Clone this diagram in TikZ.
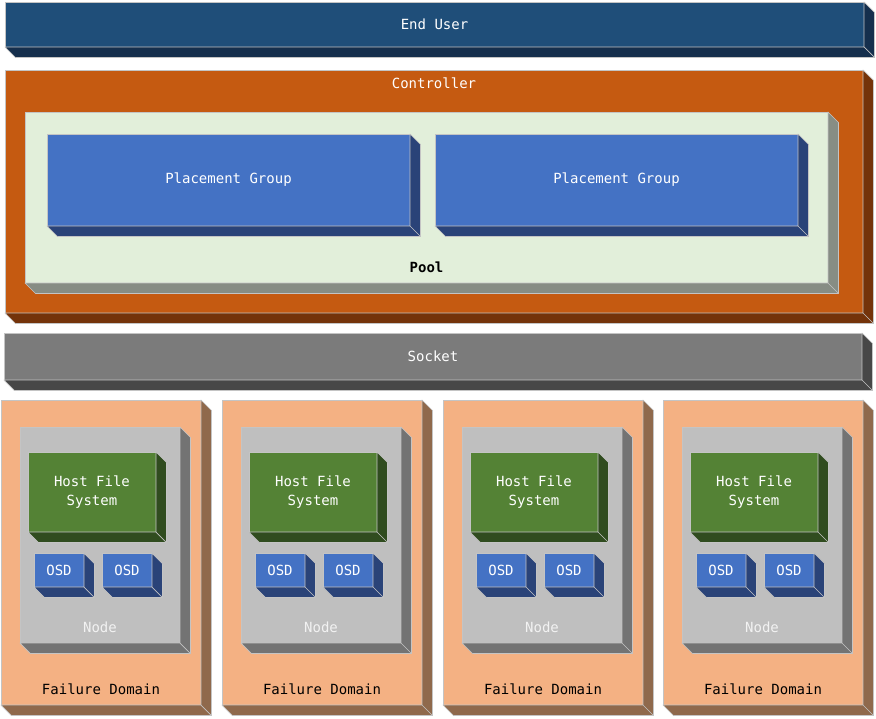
\documentclass[tikz,border=0pt]{standalone}
\usepackage{fontspec}
\usepackage{xcolor}
\setmonofont{DejaVu Sans Mono}
\usetikzlibrary{positioning, calc}

\definecolor{userFace}{HTML}{1F4E79}
\definecolor{userSide}{HTML}{152F4D}
\definecolor{ctrlFace}{HTML}{C55A11}
\definecolor{ctrlSide}{HTML}{74330A}
\definecolor{poolFace}{HTML}{E2EFDA}
\definecolor{poolSide}{HTML}{878D84}
\definecolor{pgFace}{HTML}{4472C4}
\definecolor{pgSide}{HTML}{2A4378}
\definecolor{sockFace}{HTML}{7B7B7B}
\definecolor{sockSide}{HTML}{474747}
\definecolor{fdFace}{HTML}{F4B183}
\definecolor{fdSide}{HTML}{8F694C}
\definecolor{hostFace}{HTML}{BFBFBF}
\definecolor{hostSide}{HTML}{737373}
\definecolor{hfsFace}{HTML}{548235}
\definecolor{hfsSide}{HTML}{304C1F}
\definecolor{slabEdge}{HTML}{C4C4C4}

% #1 name, #2 x1, #3 y1, #4 x2, #5 y2, #6 face, #7 side, #8 text
\newcommand{\slab}[8]{%
  \node[slabface, fill=#6, minimum width={((#4)-(#2))*1pt}, minimum height={((#5)-(#3))*1pt}]
    (#1) at ({((#2)+(#4))/2},{((#3)+(#5))/2}) {#8};
  \filldraw[fill=#7, draw=slabEdge, line width=0.7pt, line join=round]
    (#1.north east) -- ++(\dep,\dep) -- ([shift={(\dep,\dep)}]#1.south east)
    -- ([shift={(\dep,\dep)}]#1.south west) -- (#1.south west) -- (#1.south east) -- cycle;
  \draw[slabEdge, line width=0.7pt] (#1.south east) -- ++(\dep,\dep);
}
\newcommand{\dep}{10.5}

\begin{document}
\begin{tikzpicture}[
            x=1pt, y=-1pt,
            slabface/.style={rectangle, draw=slabEdge, line width=0.7pt, inner sep=0pt, outer sep=0pt, align=center, text=white, font=\ttfamily\fontsize{14}{19}\selectfont},
            lbl/.style={inner sep=0pt, font=\ttfamily\fontsize{14}{19}\selectfont}
        ]
\useasboundingbox (0,0) rectangle (876,718);

% Top layers
\slab{user}{5}{2}{864}{47}{userFace}{userSide}{End User}
\slab{ctrl}{5}{70}{863}{313}{ctrlFace}{ctrlSide}{}
\node[lbl, text=white] (ctrl-lbl) at ([yshift=-13pt]ctrl.north) {Controller};

% Pool and placement groups
\slab{pool}{25}{112}{828}{283}{poolFace}{poolSide}{}
\node[lbl, font=\ttfamily\bfseries\fontsize{14}{19}\selectfont] (pool-lbl) at ([yshift=16pt]pool.south) {Pool};
\slab{pg1}{47}{134}{410}{226}{pgFace}{pgSide}{Placement Group}
\slab{pg2}{435}{134}{798}{226}{pgFace}{pgSide}{Placement Group}

% Socket
\slab{sock}{4}{333}{862}{380}{sockFace}{sockSide}{Socket}

% Failure domains
\foreach \i/\x in {1/1, 2/222, 3/443, 4/663} {
  \slab{fd\i}{\x}{400}{\x+200}{705}{fdFace}{fdSide}{}
  \node[lbl] (fd\i-lbl) at ([yshift=16pt]fd\i.south) {Failure Domain};
  \slab{host\i}{\x+19}{427}{\x+179}{643}{hostFace}{hostSide}{}
  \node[lbl, text=white!95!black] (host\i-lbl) at ([yshift=16pt]host\i.south) {Node};
  \slab{hfs\i}{\x+27}{452}{\x+155}{532}{hfsFace}{hfsSide}{Host File\\System}
  \slab{osd\i a}{\x+33}{553}{\x+83}{587}{pgFace}{pgSide}{OSD}
  \slab{osd\i b}{\x+101}{553}{\x+151}{587}{pgFace}{pgSide}{OSD}
}

\end{tikzpicture}
\end{document}
